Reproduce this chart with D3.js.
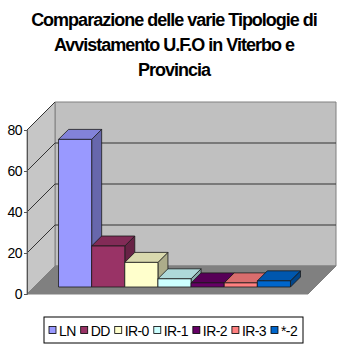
<!DOCTYPE html>
<html>
<head>
<meta charset="utf-8">
<script src="https://cdn.jsdelivr.net/npm/d3@7"></script>
<style>
	body { margin: 0; background: #fff; }
	svg { display: block; font-family: 'Liberation Sans', Arial, sans-serif; }
</style>
</head>
<body>
<svg id="chart"></svg>
<script>
const titleLines = ['Comparazione delle varie Tipologie di', 'Avvistamento U.F.O in Viterbo e', 'Provincia'];
const series = ['LN', 'DD', 'IR-0', 'IR-1', 'IR-2', 'IR-3', '*-2'];
const values = [72, 20, 12, 4, 2, 2, 3];
const colors = ['#9999ff', '#993366', '#ffffcc', '#ccffff', '#660066', '#ff8080', '#0066cc'];
const yTicks = [0, 20, 40, 60, 80];

const width = 350, height = 347;
const svg = d3.select('#chart').attr('width', width).attr('height', height);

// plot geometry (front plane) and depth offsets
const left = 27, right = 308;
const wallDepth = 28;
const barFront = 7, barBack = 17;

const y = d3.scaleLinear().domain([0, 80]).range([294, 130]);
const x = d3.scaleBand().domain(series).range([left, right])
	.paddingInner(0).paddingOuter(0.74);

const pt = (px, py, d) => [px + d, py - d];
const poly = pts => pts.map(p => p.join(',')).join(' ');

// title
svg.append('g').selectAll('text').data(titleLines).enter()
	.append('text')
		.attr('x', 174).attr('y', (d, i) => 26 + i * 25)
		.attr('text-anchor', 'middle')
		.attr('font-size', 18).attr('font-weight', 'bold')
		.attr('letter-spacing', '-1px')
		.text(d => d);

const walls = svg.append('g');
const y0 = y(0), yTop = y(80);

// back wall
walls.append('polygon')
	.attr('points', poly([pt(left, yTop, wallDepth), pt(right, yTop, wallDepth), pt(right, y0, wallDepth), pt(left, y0, wallDepth)]))
	.attr('fill', '#c0c0c0').attr('stroke', '#808080');
// left wall
walls.append('polygon')
	.attr('points', poly([[left, yTop], pt(left, yTop, wallDepth), pt(left, y0, wallDepth), [left, y0]]))
	.attr('fill', '#c6c6c6').attr('stroke', '#808080');
// floor
walls.append('polygon')
	.attr('points', poly([[left, y0], [right, y0], pt(right, y0, wallDepth), pt(left, y0, wallDepth)]))
	.attr('fill', '#808080').attr('stroke', '#808080');

// gridlines
yTicks.filter(v => v > 0 && v < 80).forEach(v => {
	const a = [left, y(v)], b = pt(left, y(v), wallDepth), c = pt(right, y(v), wallDepth);
	walls.append('polyline')
		.attr('points', poly([a, b, c]))
		.attr('fill', 'none').attr('stroke', '#333').attr('stroke-width', 1);
});
walls.append('line')
	.attr('x1', left).attr('y1', yTop).attr('x2', left + wallDepth).attr('y2', yTop - wallDepth)
	.attr('stroke', '#333');

// y axis
const axis = svg.append('g').attr('transform', `translate(${left},0)`)
	.call(d3.axisLeft(y).tickValues(yTicks).tickSize(3).tickPadding(2));
axis.select('.domain').attr('stroke', '#555');
axis.selectAll('.tick line').attr('stroke', '#555');
axis.selectAll('.tick text').attr('font-size', 14).attr('fill', '#000')
	.attr('font-family', "'Liberation Sans', Arial, sans-serif").attr('letter-spacing', '-0.5px');

// bars
const shade = (c, k) => d3.rgb(c).darker(k).formatHex();
const bars = svg.append('g');
series.forEach((s, i) => {
	const x0 = x(s) + barFront, x1 = x(s) + x.bandwidth() + barFront;
	const yb = y(0) - barFront, yt = y(values[i]) - barFront;
	const d = barBack - barFront;
	const g = bars.append('g').attr('stroke', '#1a1a1a').attr('stroke-width', 0.8).attr('stroke-linejoin', 'round');
	g.append('polygon')
		.attr('points', poly([[x1, yt], pt(x1, yt, d), pt(x1, yb, d), [x1, yb]]))
		.attr('fill', shade(colors[i], 1.1));
	g.append('polygon')
		.attr('points', poly([[x0, yt], pt(x0, yt, d), pt(x1, yt, d), [x1, yt]]))
		.attr('fill', shade(colors[i], 0.45));
	g.append('rect')
		.attr('x', x0).attr('y', yt).attr('width', x1 - x0).attr('height', yb - yt)
		.attr('fill', colors[i]);
});

// legend
const legend = svg.append('g');
const box = legend.append('rect')
	.attr('x', 44).attr('y', 317).attr('width', 259).attr('height', 26)
	.attr('fill', '#fff').attr('stroke', '#000');
let lx = 49;
series.forEach((s, i) => {
	legend.append('rect')
		.attr('x', lx).attr('y', 326.5).attr('width', 7).attr('height', 7)
		.attr('fill', colors[i]).attr('stroke', '#000').attr('stroke-width', 0.8);
	const t = legend.append('text')
		.attr('x', lx + 10).attr('y', 335.5)
		.attr('font-size', 14).attr('letter-spacing', '-0.6px')
		.text(s);
	lx += 10 + t.node().getComputedTextLength() + 5;
});
</script>
</body>
</html>
